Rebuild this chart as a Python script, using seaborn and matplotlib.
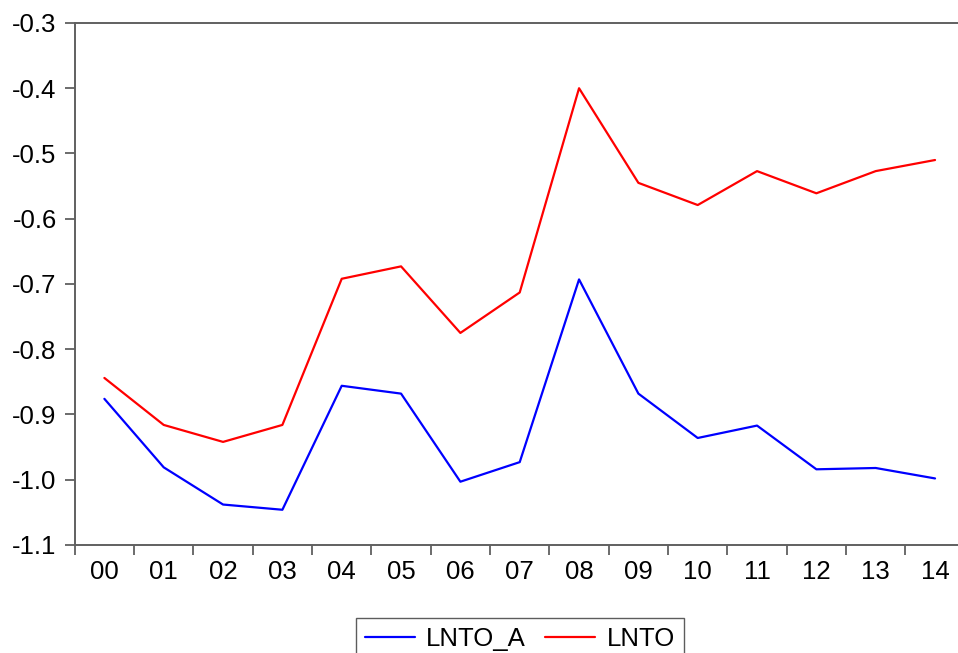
import matplotlib
matplotlib.use("Agg")
import matplotlib.pyplot as plt
from matplotlib.ticker import FixedLocator, NullFormatter
import seaborn as sns
import pandas as pd
import numpy as np

# Year labels (2000-2014)
years = ["00", "01", "02", "03", "04", "05", "06", "07",
         "08", "09", "10", "11", "12", "13", "14"]

lnto_a = [-0.876, -0.981, -1.038, -1.046, -0.856, -0.868, -1.003, -0.973,
          -0.693, -0.868, -0.936, -0.917, -0.984, -0.982, -0.998]

lnto = [-0.844, -0.916, -0.942, -0.916, -0.692, -0.673, -0.775, -0.713,
        -0.400, -0.545, -0.579, -0.527, -0.561, -0.527, -0.510]

y_ticks = [-1.1, -1.0, -0.9, -0.8, -0.7, -0.6, -0.5, -0.4, -0.3]

df = pd.DataFrame({
    "idx": list(range(len(years))) * 2,
    "value": lnto_a + lnto,
    "series": ["LNTO_A"] * len(years) + ["LNTO"] * len(years),
})

sns.set_style("white")
plt.rcParams["font.family"] = ["Liberation Sans", "DejaVu Sans"]
plt.rcParams["text.color"] = "black"
plt.rcParams["xtick.labelcolor"] = "black"
plt.rcParams["ytick.labelcolor"] = "black"

fig = plt.figure(figsize=(9.58, 6.53), dpi=100)
ax = fig.add_axes([0.078, 0.1654, 0.929, 0.7994])

lw = 1.6
sns.lineplot(data=df, x="idx", y="value", hue="series",
             palette={"LNTO_A": "#0000ff", "LNTO": "#ff0000"},
             hue_order=["LNTO_A", "LNTO"], linewidth=lw, ax=ax,
             legend=False)

ax.set_xlim(-0.5, len(years) - 0.5)
ax.set_ylim(-1.1, -0.3)
ax.set_xlabel("")
ax.set_ylabel("")

spine_col = "#606060"
for side in ["left", "bottom", "top"]:
    ax.spines[side].set_visible(True)
    ax.spines[side].set_color(spine_col)
    ax.spines[side].set_linewidth(1.4)
ax.spines["right"].set_visible(False)

fs = 18.5
# Ticks on category boundaries, labels centered in each category
ax.xaxis.set_major_locator(FixedLocator(np.arange(-0.5, len(years), 1.0)))
ax.xaxis.set_major_formatter(NullFormatter())
ax.xaxis.set_minor_locator(FixedLocator(np.arange(len(years))))
ax.set_xticklabels(years, minor=True)
ax.tick_params(axis="x", which="major", direction="out", length=7,
               width=1.3, color=spine_col, bottom=True, top=False)
ax.tick_params(axis="x", which="minor", length=0, pad=11, labelsize=fs,
               labelcolor="black")

ax.set_yticks(y_ticks)
ax.set_yticklabels([f"{v:.1f}" for v in y_ticks])
ax.tick_params(axis="y", direction="out", length=7, width=1.3,
               color=spine_col, left=True, pad=6, labelsize=fs,
               labelcolor="black")

handles = [plt.Line2D([], [], color="#0000ff", linewidth=lw),
           plt.Line2D([], [], color="#ff0000", linewidth=lw)]
leg = fig.legend(handles, ["LNTO_A", "LNTO"], ncol=2, loc="center",
                 bbox_to_anchor=(520 / 958, 1 - 639 / 653), fontsize=fs,
                 frameon=True, fancybox=False, handlelength=1.95,
                 columnspacing=0.75, handletextpad=0.45, borderpad=0.35)
leg.get_frame().set_edgecolor("#333333")
leg.get_frame().set_linewidth(1.0)
for t in leg.get_texts():
    t.set_color("black")

fig.savefig("out.png", dpi=100)
